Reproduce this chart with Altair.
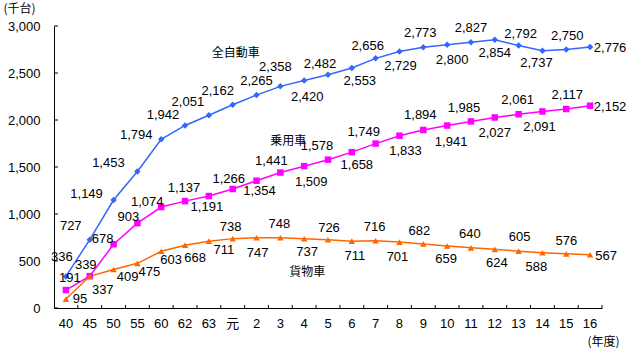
import altair as alt
import pandas as pd

# ---- data ----
categories = ["40", "45", "50", "55", "60", "62", "63", "元", "2", "3", "4", "5",
              "6", "7", "8", "9", "10", "11", "12", "13", "14", "15", "16"]
series_names = ["全自動車", "乗用車", "貨物車"]
total = [336, 727, 1149, 1453, 1794, 1942, 2051, 2162, 2265, 2358, 2420, 2482,
         2553, 2656, 2729, 2773, 2800, 2827, 2854, 2792, 2737, 2750, 2776]
passenger = [191, 339, 678, 903, 1074, 1137, 1191, 1266, 1354, 1441, 1509, 1578,
             1658, 1749, 1833, 1894, 1941, 1985, 2027, 2061, 2091, 2117, 2152]
freight = [95, 337, 409, 475, 603, 668, 711, 738, 747, 748, 737, 726,
           711, 716, 701, 682, 659, 640, 624, 605, 588, 576, 567]
y_ticks = [0, 500, 1000, 1500, 2000, 2500, 3000]

# ---- label offsets in pixels (style) ----
total_dx = [-4, -19, -27, -29, -25, -22, -21, -15, 0, -5, 3, -8, 8, -8, 1, -3, 5, 0, 0, 2, -6, 1, 20]
total_dy = [-19, -14, -6, -8, -4, -10, -13, -14, -14, -19, 16, -11, 13, -12, 15, -14, 15, -14, 13, -12, 12, -14, 1]
pass_dx = [4, -4, -11, -9, -14, -1, -2, -4, 3, -9, 7, -11, 5, -12, 6, -3, 4, -7, 0, -1, -3, 1, 20]
pass_dy = [-12, -11, -5, -6, -5, -13, 11, -10, 10, -12, 16, -14, 13, -12, 15, -15, 16, -13, 16, -14, 16, -14, 1]
frei_dx = [14, 13, 14, 12, 10, 10, 15, -2, 1, -1, 3, 1, 3, -1, -2, -4, -1, -1, 2, 1, -6, 0, 16]
frei_dy = [0, 14, 7, 9, 9, 13, 9, -12, 15, -14, 13, -12, 15, -14, 15, -13, 13, -14, 14, -14, 14, -13, 1]

colors = ["#3366FF", "#FF00FF", "#FF6600"]
shapes = ["diamond", "square", "triangle-up"]

rows = []
for s, vals, dxs, dys in zip(series_names, [total, passenger, freight],
                             [total_dx, pass_dx, frei_dx], [total_dy, pass_dy, frei_dy]):
    for c, v, dx, dy in zip(categories, vals, dxs, dys):
        rows.append({"cat": c, "value": v, "series": s, "dx": dx, "dy": dy})
df = pd.DataFrame(rows)

# series name labels anchored to a data point, with pixel offsets
name_df = pd.DataFrame({
    "cat": ["元", "3", "4"],
    "value": [total[7], passenger[9], freight[10]],
    "series": series_names,
    "dx": [3, 8, 3],
    "dy": [-52, -32, 33],
})

W, H = 548, 282
YMAX = 3000
PX = YMAX / H            # data units per pixel, for converting pixel offsets
HALF_BAND = W / len(categories) / 2   # xOffset is measured from the band start
NUMFONT = "Liberation Sans Narrow, Liberation Sans, Noto Sans CJK JP"
JPFONT = "Noto Sans CJK JP"

xscale = alt.Scale(type="band", domain=categories, paddingInner=0, paddingOuter=0)
yscale = alt.Scale(domain=[0, YMAX], nice=False)
color = alt.Color("series:N", scale=alt.Scale(domain=series_names, range=colors), legend=None)
shape = alt.Shape("series:N", scale=alt.Scale(domain=series_names, range=shapes), legend=None)

xaxis = alt.Axis(title="(年度)", ticks=False, grid=False, labelAngle=0, labelPadding=9,
                 domainColor="black", labelColor="black", labelFont=NUMFONT, labelFontSize=13,
                 titleFont=JPFONT, titleFontSize=12, titleFontWeight="normal", titleColor="black",
                 titleX=549, titleY=33, titleAlign="center", titleBaseline="middle", titleAngle=0)
yaxis = alt.Axis(title="(千台)", ticks=False, grid=False, values=y_ticks, format=",d",
                 labelPadding=14, domainColor="black", labelColor="black",
                 labelFont=NUMFONT, labelFontSize=13,
                 titleFont=JPFONT, titleFontSize=12, titleFontWeight="normal", titleColor="black",
                 titleX=-51, titleY=-18, titleAlign="left", titleBaseline="middle", titleAngle=0)

X = alt.X("cat:N", sort=categories, scale=xscale, axis=xaxis)
Y = alt.Y("value:Q", scale=yscale, axis=yaxis)
YL = alt.Y("ly:Q", scale=yscale, axis=yaxis)
OFFSET_CALC = dict(ly=f"datum.value - datum.dy * {PX}", ox=f"datum.dx + {HALF_BAND}")

base = alt.Chart(df)

lines = base.mark_line(strokeWidth=1.5).encode(x=X, y=Y, color=color, detail="series:N")
points = base.mark_point(filled=True, size=42, opacity=1).encode(x=X, y=Y, color=color, shape=shape)
labels = base.transform_calculate(**OFFSET_CALC).mark_text(
    font=NUMFONT, fontSize=13, color="black", align="center", baseline="middle").encode(
    x=X, y=YL,
    xOffset=alt.XOffset("ox:Q", scale=None),
    text=alt.Text("value:Q", format=",d"),
)
names = alt.Chart(name_df).transform_calculate(**OFFSET_CALC).mark_text(
    font=JPFONT, fontSize=12, color="black", align="center", baseline="middle").encode(
    x=X, y=YL,
    xOffset=alt.XOffset("ox:Q", scale=None),
    text="series:N",
)

ytick_df = pd.DataFrame({"value": y_ticks})
yticks = alt.Chart(ytick_df).mark_rule(color="black").encode(
    y=Y, x=alt.value(0), x2=alt.value(4))
xtick_df = pd.DataFrame({"cat": categories})
xticks = alt.Chart(xtick_df).mark_rule(color="black").encode(
    x=alt.X("cat:N", sort=categories, scale=xscale, axis=xaxis, bandPosition=1),
    y=alt.value(H), y2=alt.value(H - 3))

chart = alt.layer(lines, points, labels, names, yticks, xticks).properties(
    width=W, height=H, autosize="none",
    padding={"left": 54, "top": 26, "right": 26, "bottom": 43},
    background="white",
).configure_view(stroke=None)

chart.save("out.html", embed_options={"renderer": "svg", "actions": False})
